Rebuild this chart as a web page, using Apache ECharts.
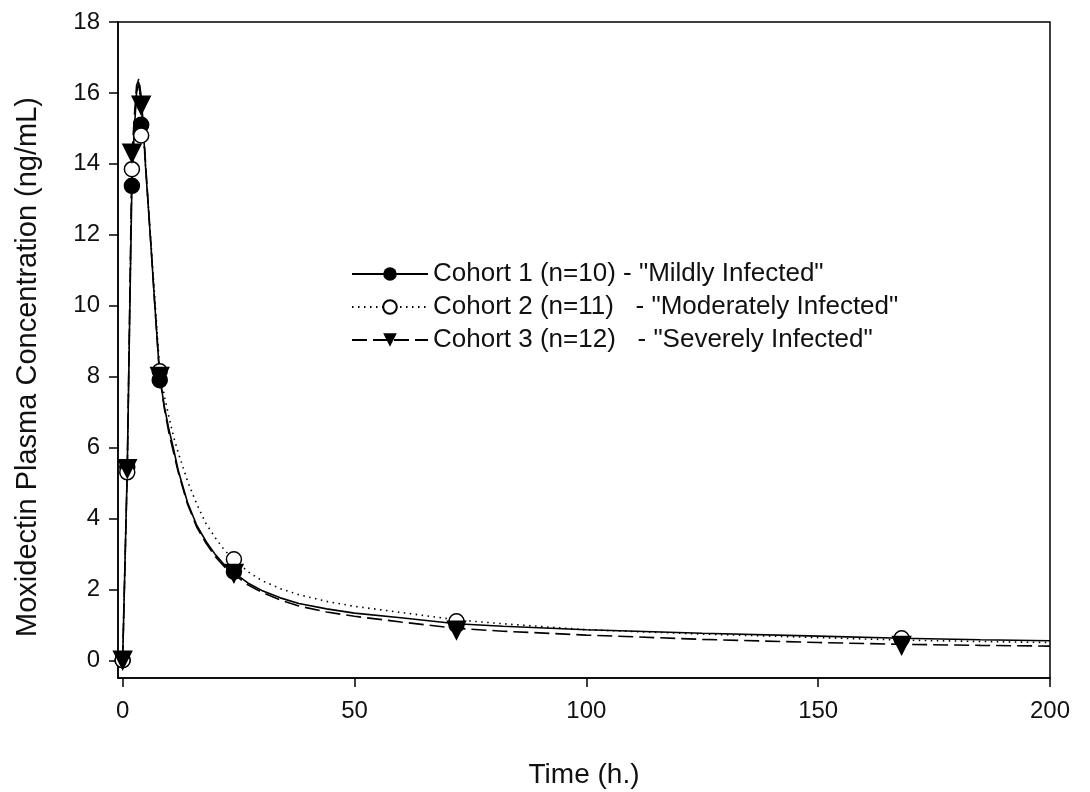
<!DOCTYPE html>
<html>
<head>
<meta charset="utf-8">
<script src="https://cdn.jsdelivr.net/npm/echarts@6.0.0/dist/echarts.min.js"></script>
<style>
  html, body { margin: 0; padding: 0; background: #fff; }
  #main { width: 1090px; height: 792px; }
</style>
</head>
<body>
<div id="main"></div>
<script>
// fitted curves
const curveTime = [0, 0.5, 1, 1.5, 2, 2.5, 3, 3.5, 4, 4.5, 5, 6, 7, 8, 9, 10, 11, 12, 14, 16, 18, 20, 22, 24, 27, 30, 34, 38, 44, 50, 60, 72, 82, 100, 125, 150, 168, 185, 200]
const cohort1Curve = [0, 2.7, 5.4, 9.5, 13.4, 14.9, 16.0, 16.3, 15.7, 14.9, 13.8, 11.9, 9.9, 8.0, 7.15, 6.5, 5.95, 5.35, 4.45, 3.8, 3.35, 2.98, 2.68, 2.47, 2.18, 1.97, 1.76, 1.6, 1.45, 1.33, 1.2, 1.03, 0.96, 0.86, 0.76, 0.68, 0.62, 0.58, 0.55]
const cohort2Curve = [0, 2.65, 5.3, 9.6, 13.8, 15.0, 16.0, 16.2, 15.6, 14.8, 13.8, 12.0, 10.1, 8.2, 7.45, 6.85, 6.3, 5.85, 5.05, 4.4, 3.85, 3.45, 3.1, 2.85, 2.5, 2.25, 2.02, 1.85, 1.66, 1.52, 1.35, 1.14, 1.03, 0.86, 0.74, 0.64, 0.57, 0.53, 0.5]
const cohort3Curve = [0, 2.7, 5.4, 9.8, 14.2, 15.3, 16.2, 16.4, 15.9, 15.0, 13.9, 11.9, 9.9, 8.0, 7.1, 6.4, 5.85, 5.3, 4.4, 3.75, 3.3, 2.92, 2.63, 2.42, 2.13, 1.92, 1.7, 1.53, 1.36, 1.24, 1.08, 0.9, 0.82, 0.71, 0.59, 0.5, 0.45, 0.42, 0.4]

// observed means
const sampleTime = [0, 1, 2, 4, 8, 24, 72, 168]
const cohort1Obs = [0, 5.45, 13.38, 15.1, 7.9, 2.5, 1.0, 0.6]
const cohort2Obs = [0, 5.3, 13.85, 14.8, 8.15, 2.85, 1.1, 0.62]
const cohort3Obs = [0, 5.4, 14.3, 15.65, 8.0, 2.45, 0.85, 0.42]

const xTicks = [0, 50, 100, 150, 200]
const yTicks = [0, 2, 4, 6, 8, 10, 12, 14, 16, 18]
const cohortNames = [
  'Cohort 1 (n=10) - "Mildly Infected"',
  'Cohort 2 (n=11)   - "Moderately Infected"',
  'Cohort 3 (n=12)   - "Severely Infected"'
]

const font = 'Liberation Sans, Arial, sans-serif'
const pair = (xs, ys) => xs.map((x, i) => [x, ys[i]])

const chart = echarts.init(document.getElementById('main'))

// line part of each cohort, used for the legend too
function curve (name, data, type, symbol) {
  return {
    name: name,
    type: 'line',
    data: pair(curveTime, data),
    showSymbol: false,
    symbol: symbol,
    symbolRotate: symbol === 'triangle' ? 180 : 0,
    smooth: false,
    silent: true,
    z: 2,
    itemStyle: { color: '#000' },
    lineStyle: { color: '#000', width: 1.6, type: type }
  }
}

function points (name, data, symbol, fill, z) {
  return {
    name: name,
    type: 'scatter',
    data: pair(sampleTime, data),
    symbol: symbol,
    symbolRotate: symbol === 'triangle' ? 180 : 0,
    symbolSize: symbol === 'triangle' ? 18 : 15,
    z: z,
    itemStyle: { color: fill, borderColor: '#000', borderWidth: 1.5, opacity: 1 }
  }
}

const option = {
  backgroundColor: '#fff',
  animation: false,
  grid: {
    left: 118, right: 40, top: 22, bottom: 114,
    outerBoundsMode: 'none',
    show: true, borderColor: '#000', borderWidth: 1.5
  },
  legend: {
    data: cohortNames,
    orient: 'vertical',
    left: 346,
    top: 256,
    itemWidth: 76,
    itemHeight: 17,
    itemGap: 7,
    iconRotate: 'inherit',
    textStyle: { fontFamily: font, fontSize: 26, color: '#111' },
    selectedMode: false
  },
  xAxis: {
    type: 'value',
    min: -1,
    max: 200,
    name: 'Time (h.)',
    nameLocation: 'middle',
    nameGap: 83,
    nameTextStyle: { fontFamily: font, fontSize: 28, color: '#111' },
    splitLine: { show: false },
    axisLine: { onZero: false, lineStyle: { color: '#000', width: 1.5 } },
    axisTick: { customValues: xTicks, length: 9, lineStyle: { color: '#000', width: 1.5 } },
    axisLabel: { customValues: xTicks, margin: 21, fontFamily: font, fontSize: 24, color: '#111' }
  },
  yAxis: {
    type: 'value',
    min: -0.5,
    max: 18,
    name: 'Moxidectin Plasma Concentration (ng/mL)',
    nameLocation: 'middle',
    nameGap: 76,
    nameTextStyle: { fontFamily: font, fontSize: 29, color: '#111', padding: [0, 34, 0, 0] },
    splitLine: { show: false },
    axisLine: { onZero: false, lineStyle: { color: '#000', width: 1.5 } },
    axisTick: { customValues: yTicks, length: 9, lineStyle: { color: '#000', width: 1.5 } },
    axisLabel: { customValues: yTicks, margin: 18, fontFamily: font, fontSize: 24, color: '#111' }
  },
  series: [
    curve(cohortNames[0], cohort1Curve, 'solid', 'circle'),
    curve(cohortNames[1], cohort2Curve, [1.5, 4.5], 'emptyCircle'),
    curve(cohortNames[2], cohort3Curve, [15, 6], 'triangle'),
    points('c1 points', cohort1Obs, 'circle', '#000', 3),
    points('c2 points', cohort2Obs, 'circle', '#fff', 4),
    points('c3 points', cohort3Obs, 'triangle', '#000', 5)
  ]
}

chart.setOption(option)
</script>
</body>
</html>
